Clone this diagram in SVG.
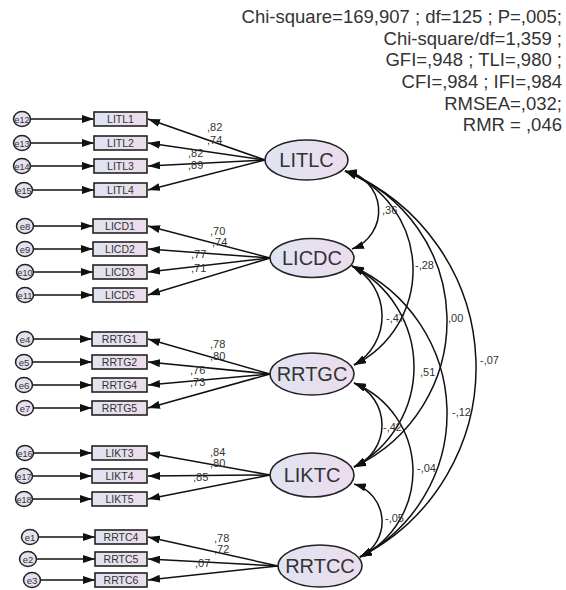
<svg xmlns="http://www.w3.org/2000/svg" width="566" height="590" viewBox="0 0 566 590">
<defs>
<linearGradient id="lg" x1="0" y1="0" x2="1" y2="0">
<stop offset="0" stop-color="#dfe4f2"/>
<stop offset="1" stop-color="#eddcec"/>
</linearGradient>
<marker id="ah" viewBox="0 0 12 8" refX="12" refY="4" markerWidth="12" markerHeight="8" markerUnits="userSpaceOnUse" orient="auto-start-reverse">
<path d="M0,0 L12,4 L0,8 Z" fill="#111"/>
</marker>
</defs>
<style>
text{font-family:"Liberation Sans",Arial,sans-serif;fill:#333}
.fit{font-size:18.5px;text-anchor:end}
.lat ellipse{fill:url(#lg);stroke:#222;stroke-width:1.6}
.lat text{font-size:20px;text-anchor:middle}
.obs rect{fill:url(#lg);stroke:#222;stroke-width:1.6}
.obs text{font-size:10.5px;text-anchor:middle}
.err ellipse{fill:url(#lg);stroke:#222;stroke-width:1.5}
.err text{font-size:9.5px;text-anchor:middle}
.c path,.c line{fill:none;stroke:#111;stroke-width:1.5}
.c .one{marker-end:url(#ah)}
.c .two{marker-start:url(#ah);marker-end:url(#ah)}
.lb{font-size:11px}
</style>
<g id="fit">
<text class="fit" x="562" y="23">Chi-square=169,907 ; df=125 ; P=,005;</text>
<text class="fit" x="562" y="45">Chi-square/df=1,359 ;</text>
<text class="fit" x="562" y="66">GFI=,948 ; TLI=,980 ;</text>
<text class="fit" x="562" y="88">CFI=,984 ; IFI=,984</text>
<text class="fit" x="562" y="110">RMSEA=,032;</text>
<text class="fit" x="562" y="131">RMR = ,046</text>
</g>
<g id="connectors" class="c">
<line class="one" x1="30.5" y1="119" x2="94" y2="119"/>
<line class="one" x1="30.5" y1="143" x2="94" y2="143"/>
<line class="one" x1="30.5" y1="166" x2="94" y2="166"/>
<line class="one" x1="32.5" y1="190" x2="94" y2="190"/>
<line class="one" x1="33.5" y1="226" x2="93" y2="226"/>
<line class="one" x1="33.5" y1="249" x2="93" y2="249"/>
<line class="one" x1="33.5" y1="272" x2="93" y2="272"/>
<line class="one" x1="33.5" y1="295" x2="93" y2="295"/>
<line class="one" x1="33.5" y1="339" x2="92" y2="339"/>
<line class="one" x1="32.5" y1="362" x2="92" y2="362"/>
<line class="one" x1="32.5" y1="385" x2="92" y2="385"/>
<line class="one" x1="33.5" y1="408" x2="92" y2="408"/>
<line class="one" x1="33.5" y1="453" x2="92" y2="453"/>
<line class="one" x1="32.5" y1="476" x2="92" y2="476"/>
<line class="one" x1="32.5" y1="499" x2="92" y2="499"/>
<line class="one" x1="38.5" y1="537" x2="95" y2="537"/>
<line class="one" x1="36.5" y1="559" x2="95" y2="559"/>
<line class="one" x1="40.5" y1="580" x2="95" y2="580"/>
<line class="one" x1="265" y1="160" x2="148" y2="119"/>
<line class="one" x1="265" y1="160" x2="148" y2="143"/>
<line class="one" x1="265" y1="160" x2="148" y2="166"/>
<line class="one" x1="265" y1="160" x2="148" y2="190"/>
<line class="one" x1="270" y1="258" x2="148" y2="226"/>
<line class="one" x1="270" y1="258" x2="148" y2="249"/>
<line class="one" x1="270" y1="258" x2="148" y2="272"/>
<line class="one" x1="270" y1="258" x2="148" y2="295"/>
<line class="one" x1="270" y1="374" x2="148" y2="339"/>
<line class="one" x1="270" y1="374" x2="148" y2="362"/>
<line class="one" x1="270" y1="374" x2="148" y2="385"/>
<line class="one" x1="270" y1="374" x2="148" y2="408"/>
<line class="one" x1="270" y1="475" x2="148" y2="453"/>
<line class="one" x1="270" y1="475" x2="148" y2="476"/>
<line class="one" x1="270" y1="475" x2="148" y2="499"/>
<line class="one" x1="278" y1="566" x2="148" y2="537"/>
<line class="one" x1="278" y1="566" x2="148" y2="559"/>
<line class="one" x1="278" y1="566" x2="148" y2="580"/>
<path class="two" d="M345,171 A40.5,40.5 0 0 1 352,249"/>
<path class="two" d="M345,171 A106,106 0 0 1 354,365"/>
<path class="two" d="M345,171 A161.2,161.2 0 0 1 354,467"/>
<path class="two" d="M345,171 A212.8,212.8 0 0 1 360,557"/>
<path class="two" d="M352,266 A56.7,56.7 0 0 1 354,365"/>
<path class="two" d="M352,266 A113.3,113.3 0 0 1 354,467"/>
<path class="two" d="M352,266 A161.9,161.9 0 0 1 360,557"/>
<path class="two" d="M354,383 A45.5,45.5 0 0 1 354,467"/>
<path class="two" d="M354,383 A95.7,95.7 0 0 1 360,557"/>
<path class="two" d="M354,484 A39.3,39.3 0 0 1 360,557"/>
</g>
<g id="labels" class="lb">
<text x="207" y="131">,82</text>
<text x="207" y="144">,74</text>
<text x="188" y="157">,82</text>
<text x="188" y="169">,89</text>
<text x="210" y="235">,70</text>
<text x="212" y="246">,74</text>
<text x="191" y="258">,77</text>
<text x="191" y="272">,71</text>
<text x="210" y="348">,78</text>
<text x="210" y="360">,80</text>
<text x="190" y="374">,76</text>
<text x="190" y="386">,73</text>
<text x="210" y="456">,84</text>
<text x="210" y="467">,80</text>
<text x="193" y="481">,85</text>
<text x="214" y="542">,78</text>
<text x="214" y="553">,72</text>
<text x="195" y="567">,07</text>
<text x="382" y="214">,36</text>
<text x="415" y="269">-,28</text>
<text x="386" y="322">-,47</text>
<text x="448" y="322">,00</text>
<text x="480" y="364">-,07</text>
<text x="420" y="376">,51</text>
<text x="452" y="416">-,12</text>
<text x="383" y="431">-,42</text>
<text x="417" y="472">-,04</text>
<text x="385" y="522">-,05</text>
</g>
<g id="LITLC" class="lat"><ellipse cx="306.5" cy="160" rx="41.5" ry="20"/><text x="306.5" y="167">LITLC</text></g>
<g id="LICDC" class="lat"><ellipse cx="312" cy="258" rx="42" ry="19.5"/><text x="312" y="265">LICDC</text></g>
<g id="RRTGC" class="lat"><ellipse cx="312" cy="374" rx="42" ry="21"/><text x="312" y="381">RRTGC</text></g>
<g id="LIKTC" class="lat"><ellipse cx="312" cy="475" rx="42" ry="22"/><text x="312" y="482">LIKTC</text></g>
<g id="RRTCC" class="lat"><ellipse cx="320" cy="566" rx="42" ry="21"/><text x="320" y="573">RRTCC</text></g>
<g id="LITL1" class="obs"><rect x="94" y="112" width="53" height="14"/><text x="120.5" y="123">LITL1</text></g>
<g id="LITL2" class="obs"><rect x="94" y="136" width="53" height="14"/><text x="120.5" y="147">LITL2</text></g>
<g id="LITL3" class="obs"><rect x="94" y="159" width="53" height="14"/><text x="120.5" y="170">LITL3</text></g>
<g id="LITL4" class="obs"><rect x="94" y="183" width="53" height="14"/><text x="120.5" y="194">LITL4</text></g>
<g id="LICD1" class="obs"><rect x="93" y="219" width="54" height="14"/><text x="120" y="230">LICD1</text></g>
<g id="LICD2" class="obs"><rect x="93" y="242" width="54" height="14"/><text x="120" y="253">LICD2</text></g>
<g id="LICD3" class="obs"><rect x="93" y="265" width="54" height="14"/><text x="120" y="276">LICD3</text></g>
<g id="LICD5" class="obs"><rect x="93" y="288" width="54" height="14"/><text x="120" y="299">LICD5</text></g>
<g id="RRTG1" class="obs"><rect x="92" y="332" width="55" height="14"/><text x="119.5" y="343">RRTG1</text></g>
<g id="RRTG2" class="obs"><rect x="92" y="355" width="55" height="14"/><text x="119.5" y="366">RRTG2</text></g>
<g id="RRTG4" class="obs"><rect x="92" y="378" width="55" height="14"/><text x="119.5" y="389">RRTG4</text></g>
<g id="RRTG5" class="obs"><rect x="92" y="401" width="55" height="14"/><text x="119.5" y="412">RRTG5</text></g>
<g id="LIKT3" class="obs"><rect x="92" y="446" width="55" height="14"/><text x="119.5" y="457">LIKT3</text></g>
<g id="LIKT4" class="obs"><rect x="92" y="469" width="55" height="14"/><text x="119.5" y="480">LIKT4</text></g>
<g id="LIKT5" class="obs"><rect x="92" y="492" width="55" height="14"/><text x="119.5" y="503">LIKT5</text></g>
<g id="RRTC4" class="obs"><rect x="95" y="530" width="52" height="14"/><text x="121" y="541">RRTC4</text></g>
<g id="RRTC5" class="obs"><rect x="95" y="552" width="52" height="14"/><text x="121" y="563">RRTC5</text></g>
<g id="RRTC6" class="obs"><rect x="95" y="573" width="52" height="14"/><text x="121" y="584">RRTC6</text></g>
<g id="e12" class="err"><ellipse cx="22" cy="119" rx="8.5" ry="7.5"/><text x="22" y="122.5" textLength="15" lengthAdjust="spacingAndGlyphs">e12</text></g>
<g id="e13" class="err"><ellipse cx="22" cy="143" rx="8.5" ry="7.5"/><text x="22" y="146.5" textLength="15" lengthAdjust="spacingAndGlyphs">e13</text></g>
<g id="e14" class="err"><ellipse cx="22" cy="166" rx="8.5" ry="7.5"/><text x="22" y="169.5" textLength="15" lengthAdjust="spacingAndGlyphs">e14</text></g>
<g id="e15" class="err"><ellipse cx="24" cy="190" rx="8.5" ry="7.5"/><text x="24" y="193.5" textLength="15" lengthAdjust="spacingAndGlyphs">e15</text></g>
<g id="e8" class="err"><ellipse cx="25" cy="226" rx="8.5" ry="7.5"/><text x="25" y="229.5">e8</text></g>
<g id="e9" class="err"><ellipse cx="25" cy="249" rx="8.5" ry="7.5"/><text x="25" y="252.5">e9</text></g>
<g id="e10" class="err"><ellipse cx="25" cy="272" rx="8.5" ry="7.5"/><text x="25" y="275.5" textLength="15" lengthAdjust="spacingAndGlyphs">e10</text></g>
<g id="e11" class="err"><ellipse cx="25" cy="295" rx="8.5" ry="7.5"/><text x="25" y="298.5" textLength="15" lengthAdjust="spacingAndGlyphs">e11</text></g>
<g id="e4" class="err"><ellipse cx="25" cy="339" rx="8.5" ry="7.5"/><text x="25" y="342.5">e4</text></g>
<g id="e5" class="err"><ellipse cx="24" cy="362" rx="8.5" ry="7.5"/><text x="24" y="365.5">e5</text></g>
<g id="e6" class="err"><ellipse cx="24" cy="385" rx="8.5" ry="7.5"/><text x="24" y="388.5">e6</text></g>
<g id="e7" class="err"><ellipse cx="25" cy="408" rx="8.5" ry="7.5"/><text x="25" y="411.5">e7</text></g>
<g id="e16" class="err"><ellipse cx="25" cy="453" rx="8.5" ry="7.5"/><text x="25" y="456.5" textLength="15" lengthAdjust="spacingAndGlyphs">e16</text></g>
<g id="e17" class="err"><ellipse cx="24" cy="476" rx="8.5" ry="7.5"/><text x="24" y="479.5" textLength="15" lengthAdjust="spacingAndGlyphs">e17</text></g>
<g id="e18" class="err"><ellipse cx="24" cy="499" rx="8.5" ry="7.5"/><text x="24" y="502.5" textLength="15" lengthAdjust="spacingAndGlyphs">e18</text></g>
<g id="e1" class="err"><ellipse cx="30" cy="537" rx="8.5" ry="7.5"/><text x="30" y="540.5">e1</text></g>
<g id="e2" class="err"><ellipse cx="28" cy="559" rx="8.5" ry="7.5"/><text x="28" y="562.5">e2</text></g>
<g id="e3" class="err"><ellipse cx="32" cy="580" rx="8.5" ry="7.5"/><text x="32" y="583.5">e3</text></g>
</svg>
